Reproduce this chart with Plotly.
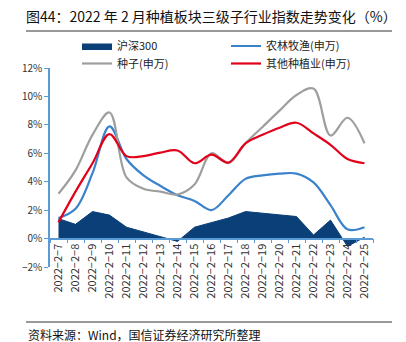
import plotly.graph_objects as go

# 交易日（2022年2月）
dates = ["2022-2-7", "2022-2-8", "2022-2-9", "2022-2-10", "2022-2-11", "2022-2-12",
         "2022-2-13", "2022-2-14", "2022-2-15", "2022-2-16", "2022-2-17", "2022-2-18",
         "2022-2-19", "2022-2-20", "2022-2-21", "2022-2-22", "2022-2-23", "2022-2-24",
         "2022-2-25"]

# 累计涨跌幅（%）
hs300 = [1.4, 1.0, 1.9, 1.65, 0.8, 0.45, 0.15, -0.2, 0.8, 1.15, 1.45, 1.9,
         1.8, 1.7, 1.55, 0.25, 1.3, -0.55, 0.1]
nlmy = [1.45, 2.1, 4.6, 7.9, 5.6, 4.45, 3.7, 3.05, 2.65, 2.0, 3.05, 4.2,
        4.45, 4.57, 4.57, 3.95, 2.35, 0.65, 0.8]
zhongzi = [3.15, 4.8, 7.3, 8.87, 4.3, 3.5, 3.3, 3.1, 3.8, 6.0, 5.3, 6.7,
           7.85, 9.0, 10.1, 10.55, 7.25, 8.5, 6.7]
qita = [1.15, 3.3, 5.3, 7.35, 5.8, 5.8, 6.05, 6.2, 5.3, 5.9, 5.35, 6.7,
        7.3, 7.8, 8.15, 7.4, 6.6, 5.6, 5.3]

y_ticks = [-2, 0, 2, 4, 6, 8, 10, 12]
y_labels = ["−2%", "0%", "2%", "4%", "6%", "8%", "10%", "12%"]
x_labels = [d.replace("-", "−") for d in dates]

W, H = 406, 342
M_L, M_R, M_T, M_B = 50, 33, 68, 75
PW, PH = W - M_L - M_R, H - M_T - M_B
Y_MIN, Y_MAX = -2, 12


def px_x(p):
    return (p - M_L) / PW


def px_y(p):
    return (H - M_B - p) / PH


FONT = "Noto Sans CJK SC, Noto Sans, sans-serif"
AXIS_BLUE = "#5B9BD5"

fig = go.Figure()
fig.add_trace(go.Scatter(
    x=dates, y=hs300, name="沪深300", mode="lines",
    line=dict(color="#0B3F77", width=1, shape="linear"),
    fill="tozeroy", fillcolor="#0B3F77", legend="legend"))
fig.add_trace(go.Scatter(
    x=dates, y=nlmy, name="农林牧渔(申万)", mode="lines",
    line=dict(color="#3A82CA", width=2.2, shape="spline", smoothing=1),
    legend="legend2"))
fig.add_trace(go.Scatter(
    x=dates, y=zhongzi, name="种子(申万)", mode="lines",
    line=dict(color="#9E9E9E", width=2.2, shape="spline", smoothing=1),
    legend="legend3"))
fig.add_trace(go.Scatter(
    x=dates, y=qita, name="其他种植业(申万)", mode="lines",
    line=dict(color="#E3001B", width=2.2, shape="spline", smoothing=1),
    legend="legend4"))

legend_common = dict(
    orientation="h", xanchor="left", yanchor="middle",
    font=dict(family=FONT, size=11, color="#222"),
    bgcolor="rgba(0,0,0,0)", itemwidth=30,
)

fig.update_layout(
    width=W, height=H,
    margin=dict(l=M_L, r=M_R, t=M_T, b=M_B, pad=0),
    paper_bgcolor="white", plot_bgcolor="white",
    showlegend=True,
    font=dict(family=FONT, color="#333"),
    title=dict(
        text="图44：2022 年 2 月种植板块三级子行业指数走势变化（%）",
        x=26 / W, xanchor="left", xref="container",
        y=1 - 17 / H, yanchor="middle", yref="container",
        font=dict(family=FONT, size=14, color="#111"),
    ),
    legend=dict(x=px_x(77), y=px_y(46), **legend_common),
    legend2=dict(x=px_x(226), y=px_y(46), **legend_common),
    legend3=dict(x=px_x(77), y=px_y(63.5), **legend_common),
    legend4=dict(x=px_x(226), y=px_y(63.5), **legend_common),
    xaxis=dict(
        type="category", categoryorder="array", categoryarray=dates,
        tickvals=dates, ticktext=x_labels,
        anchor="free", position=(0 - Y_MIN) / (Y_MAX - Y_MIN),
        showline=True, linecolor=AXIS_BLUE, linewidth=1.5,
        ticks="outside", ticklen=4, tickcolor=AXIS_BLUE, tickson="boundaries",
        tickangle=-90, showgrid=False, zeroline=False,
        tickfont=dict(family=FONT, size=11, color="#333"),
        range=[-0.5, len(dates) - 0.5],
    ),
    yaxis=dict(
        range=[Y_MIN, Y_MAX], tickvals=y_ticks, ticktext=y_labels,
        showline=True, linecolor=AXIS_BLUE, linewidth=1.5,
        ticks="outside", ticklen=4, tickcolor=AXIS_BLUE,
        showgrid=False, zeroline=False,
        tickfont=dict(family=FONT, size=10, color="#333"),
    ),
    shapes=[
        dict(type="line", xref="paper", yref="paper",
             x0=px_x(26), x1=px_x(392), y0=px_y(31), y1=px_y(31),
             line=dict(color="#333", width=1)),
        dict(type="line", xref="paper", yref="paper",
             x0=px_x(26), x1=px_x(392), y0=px_y(322), y1=px_y(322),
             line=dict(color="#333", width=1)),
    ],
    annotations=[
        dict(text="资料来源：Wind，国信证券经济研究所整理",
             xref="paper", yref="paper", x=px_x(26), y=px_y(334),
             xanchor="left", yanchor="middle", showarrow=False,
             font=dict(family=FONT, size=12, color="#111")),
    ],
)

fig.write_html("out.html")
